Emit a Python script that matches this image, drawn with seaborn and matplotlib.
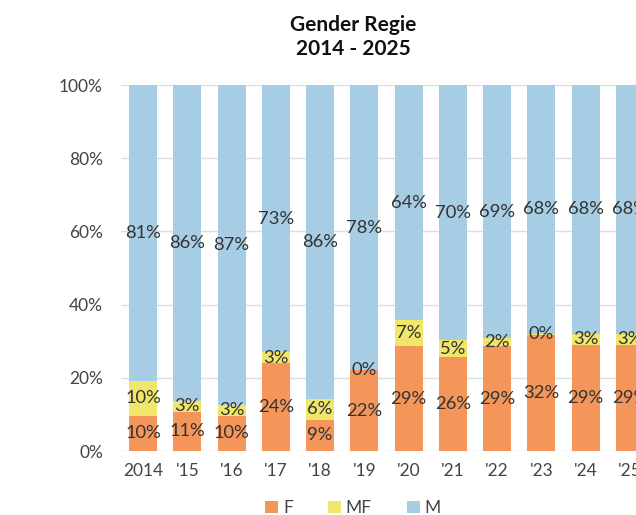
import matplotlib
matplotlib.use("Agg")
import matplotlib.pyplot as plt
import seaborn as sns
import numpy as np
import pandas as pd

years = ["2014", "'15", "'16", "'17", "'18", "'19", "'20", "'21", "'22", "'23", "'24", "'25"]
share_f = [9.6, 10.7, 9.6, 24.0, 8.6, 22.0, 28.6, 25.6, 28.6, 31.8, 28.9, 28.9]
share_mf = [9.6, 3.0, 3.1, 3.0, 5.6, 0.0, 7.1, 4.6, 2.2, 0.2, 3.2, 3.2]
share_m = [80.8, 86.3, 87.3, 73.0, 85.8, 78.0, 64.3, 69.8, 69.2, 68.0, 67.9, 67.9]
series_names = ["F", "MF", "M"]
colors = ["#F4965A", "#EFE66A", "#A7CDE5"]

sns.set_theme(style="white")
plt.rcParams["font.family"] = ["Lato", "DejaVu Sans"]

fig = plt.figure(figsize=(6.36, 5.15), dpi=100)
ax = fig.add_axes([121 / 636, 1 - 451 / 515, (652 - 121) / 636, (451 - 85) / 515])

df = pd.DataFrame({"year": years, "F": share_f, "MF": share_mf, "M": share_m})
bottoms = np.zeros(len(years))
for name, col in zip(series_names, colors):
    vals = df[name].to_numpy()
    sns.barplot(data=df, x="year", y=name, order=years, color=col, width=0.63,
                bottom=bottoms.copy(), label=name, ax=ax, linewidth=0,
                saturation=1)
    for i, v in enumerate(vals):
        ax.text(i, bottoms[i] + v / 2, f"{round(v)}%", ha="center", va="center",
                fontsize=13.2, color="#333333")
    bottoms = bottoms + vals

ax.set_ylim(0, 100)
ax.set_xlim(-0.5, len(years) - 0.5)
ax.set_yticks([0, 20, 40, 60, 80, 100])
ax.set_yticklabels([f"{t}%" for t in [0, 20, 40, 60, 80, 100]])
ax.set_xlabel("")
ax.set_ylabel("")
ax.grid(axis="y", color="#DDDDDD", linewidth=1)
ax.grid(axis="x", visible=False)
ax.set_axisbelow(True)
for s in ax.spines.values():
    s.set_visible(False)
ax.tick_params(axis="y", length=0, pad=13, labelsize=12.5, labelcolor="#444444")
ax.tick_params(axis="x", length=0, pad=9, labelsize=12.5, labelcolor="#444444")

handles, labels = ax.get_legend_handles_labels()
ax.legend(handles, labels, loc="center", bbox_to_anchor=(353 / 636, 1 - 508 / 515),
          bbox_transform=fig.transFigure, ncol=3, frameon=False, fontsize=12.5,
          handlelength=0.75, handleheight=0.75, handletextpad=0.3, columnspacing=2.0,
          labelcolor="#444444")

fig.text(353 / 636, 1 - 37 / 515, "Gender Regie\n2014 - 2025", ha="center", va="center",
         fontsize=15, fontweight="bold", color="#111111", linespacing=1.3)

fig.savefig("out.png", dpi=100)
